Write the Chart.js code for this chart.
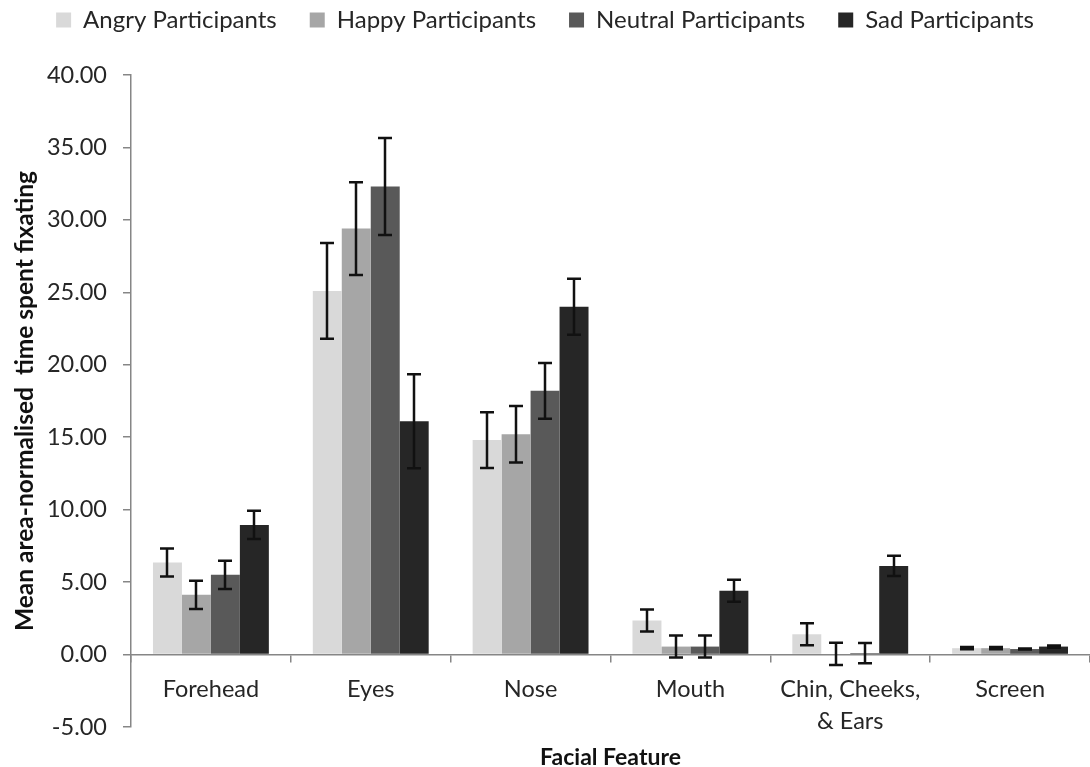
<!DOCTYPE html>
<html>
<head>
<meta charset="utf-8">
<script src="https://cdn.jsdelivr.net/npm/chart.js@4/dist/chart.umd.min.js"></script>
<style>
  html, body { margin: 0; padding: 0; background: #ffffff; }
  #wrap { width: 1090px; height: 767px; }
</style>
</head>
<body>
<div id="wrap"><canvas id="c" width="1090" height="767"></canvas></div>
<script>
// Facial features (x categories)
const categories = ['Forehead', 'Eyes', 'Nose', 'Mouth', ['Chin, Cheeks,', '& Ears'], 'Screen'];
const seriesNames = ['Angry Participants', 'Happy Participants', 'Neutral Participants', 'Sad Participants'];

// Mean area-normalised fixation time per group, with standard-error half widths
const angryMeans   = [6.35, 25.1, 14.8, 2.35, 1.40, 0.44];
const angryErrors  = [0.97, 3.30, 1.93, 0.76, 0.76, 0.08];
const happyMeans   = [4.12, 29.4, 15.2, 0.55, 0.05, 0.44];
const happyErrors  = [0.97, 3.20, 1.95, 0.76, 0.77, 0.08];
const neutralMeans = [5.50, 32.3, 18.2, 0.55, 0.10, 0.38];
const neutralErrors= [0.97, 3.35, 1.93, 0.76, 0.70, 0.03];
const sadMeans     = [8.95, 16.1, 24.0, 4.40, 6.12, 0.55];
const sadErrors    = [0.97, 3.25, 1.93, 0.76, 0.70, 0.08];

const seriesColors = ['#d9d9d9', '#a6a6a6', '#595959', '#262626'];
const axisGrey = '#868686';
const textColor = '#262626';

// Draws vertical error bars with caps on every bar
const errorBars = {
  id: 'errorBars',
  afterDatasetsDraw(chart) {
    const ctx = chart.ctx;
    const yScale = chart.scales.y;
    ctx.save();
    ctx.strokeStyle = '#111111';
    ctx.lineWidth = 2.5;
    chart.data.datasets.forEach((ds, di) => {
      const meta = chart.getDatasetMeta(di);
      meta.data.forEach((bar, i) => {
        const v = ds.data[i];
        const e = ds.errors[i];
        const x = Math.round(bar.x);
        const yHi = yScale.getPixelForValue(v + e);
        const yLo = yScale.getPixelForValue(v - e);
        const cap = 7;
        ctx.beginPath();
        ctx.moveTo(x, yHi); ctx.lineTo(x, yLo);
        ctx.moveTo(x - cap, yHi); ctx.lineTo(x + cap, yHi);
        ctx.moveTo(x - cap, yLo); ctx.lineTo(x + cap, yLo);
        ctx.stroke();
      });
    });
    ctx.restore();
  }
};

// Leaves extra room between the legend row and the plot
const legendGap = {
  id: 'legendGap',
  afterInit(chart) {
    const lg = chart.legend;
    if (!lg) return;
    const baseFit = lg.fit;
    lg.fit = function () {
      baseFit.call(this);
      this.height += 33;
    };
  }
};

const means = [angryMeans, happyMeans, neutralMeans, sadMeans];
const errors = [angryErrors, happyErrors, neutralErrors, sadErrors];

new Chart(document.getElementById('c'), {
  type: 'bar',
  data: {
    labels: categories,
    datasets: seriesNames.map((name, k) => ({
      label: name,
      data: means[k],
      errors: errors[k],
      backgroundColor: seriesColors[k],
      borderWidth: 0,
      barPercentage: 1.0,
      categoryPercentage: 0.725
    }))
  },
  options: {
    responsive: false,
    animation: false,
    layout: { padding: { left: 0, right: 0, top: -25, bottom: 40 } },
    plugins: {
      tooltip: { enabled: false },
      legend: {
        position: 'top',
        labels: {
          font: { family: 'Lato', size: 24 },
          color: textColor,
          boxWidth: 15,
          boxHeight: 15,
          padding: 33
        }
      }
    },
    scales: {
      x: {
        position: { y: 0 },
        grid: {
          display: true,
          drawOnChartArea: false,
          drawTicks: true,
          tickLength: 7,
          color: axisGrey,
          lineWidth: 1.5,
          offset: true
        },
        border: { display: true, color: axisGrey, width: 1.5 },
        ticks: {
          font: { family: 'Lato', size: 23.5, lineHeight: 1.4 },
          color: textColor,
          autoSkip: false,
          maxRotation: 0,
          padding: 11
        },
        title: {
          display: true,
          text: 'Facial Feature',
          font: { family: 'Lato', size: 23, weight: 'bold' },
          color: '#111111',
          padding: { top: -6, bottom: 0 }
        }
      },
      y: {
        min: -5,
        max: 40,
        ticks: {
          stepSize: 5,
          font: { family: 'Lato', size: 23.5 },
          color: textColor,
          padding: 16,
          callback: (v) => Number(v).toFixed(2)
        },
        grid: {
          display: true,
          drawOnChartArea: false,
          drawTicks: true,
          tickLength: 8,
          color: axisGrey,
          lineWidth: 1.5
        },
        border: { display: true, color: axisGrey, width: 1.5 },
        title: {
          display: true,
          text: 'Mean area-normalised  time spent fixating',
          font: { family: 'Lato', size: 24.5, weight: 'bold' },
          color: '#111111',
          padding: { top: 10, bottom: 0 }
        },
        afterFit(scale) { scale.width = 131; }
      }
    }
  },
  plugins: [errorBars, legendGap]
});
</script>
</body>
</html>
